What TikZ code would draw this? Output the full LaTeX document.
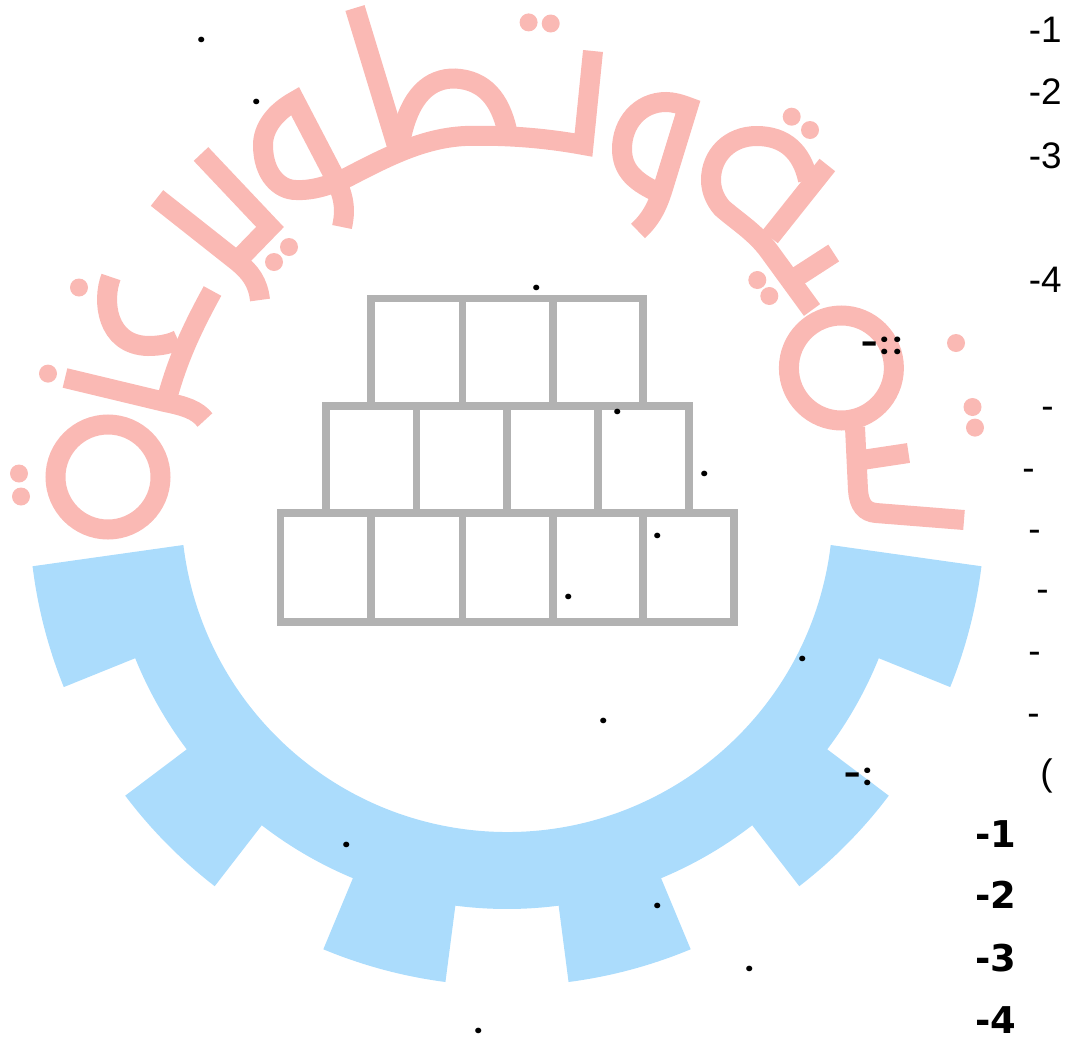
\documentclass[tikz,border=0pt]{standalone}
\usepackage{fontspec}
\setmainfont{Liberation Sans}
\newfontfamily\boldface{DejaVu Sans}
\newfontfamily\roundface{Poppins}
\usepackage{xcolor}
\usetikzlibrary{positioning}
\definecolor{gearblue}{RGB}{171, 220, 252}
\definecolor{letterpink}{RGB}{250, 185, 180}
\definecolor{brickgray}{RGB}{178, 178, 178}

\begin{document}
\begin{tikzpicture}[
    x=0.02cm, y=0.02cm,
    gearfill/.style={fill=gearblue},
    letter/.style={draw=letterpink, line width=0.4cm, line join=miter},
    ring/.style={draw=letterpink, line width=0.4cm},
    letterdot/.style={fill=letterpink},
    brick/.style={draw=brickgray, line width=0.15cm},
    numtext/.style={anchor=base east, inner sep=0pt, font=\fontsize{21}{21}\selectfont},
    boldtext/.style={anchor=base east, inner sep=0pt, font=\boldface\bfseries\fontsize{21}{21}\selectfont},
    colontext/.style={anchor=base west, inner sep=0pt, font=\roundface\bfseries\fontsize{17}{17}\selectfont},
    period/.style={anchor=base, inner sep=0pt, font=\roundface\bfseries\fontsize{17}{17}\selectfont}
]
\useasboundingbox (0,0) rectangle (1072,-1038);

% Gear
\begin{scope}[shift={(507,-508)}]
\fill[gearfill] (-323.7,-37) -- (187:478) arc[start angle=187, end angle=202, radius=478]
    -- (202:401) arc[start angle=202, end angle=217, radius=401]
    -- (217:478) arc[start angle=217, end angle=232.3, radius=478]
    -- (232.3:401) arc[start angle=232.3, end angle=247.4, radius=401]
    -- (247.4:478) arc[start angle=247.4, end angle=262.6, radius=478]
    -- (262.6:401) arc[start angle=262.6, end angle=277.4, radius=401]
    -- (277.4:478) arc[start angle=277.4, end angle=292.6, radius=478]
    -- (292.6:401) arc[start angle=292.6, end angle=307.7, radius=401]
    -- (307.7:478) arc[start angle=307.7, end angle=323, radius=478]
    -- (323:401) arc[start angle=323, end angle=338, radius=401]
    -- (338:478) arc[start angle=338, end angle=353, radius=478]
    -- (323.7,-37) arc[start angle=353.13, end angle=186.87, radius=326] -- cycle;
\end{scope}

% Bricks
\draw[brick] (371,-298.5) rectangle (462.5,-406);
\draw[brick] (462.5,-298.5) rectangle (553,-406);
\draw[brick] (553,-298.5) rectangle (643,-406);
\draw[brick] (326,-406) rectangle (416.7,-513);
\draw[brick] (416.7,-406) rectangle (507,-513);
\draw[brick] (507,-406) rectangle (598,-513);
\draw[brick] (598,-406) rectangle (689,-513);
\draw[brick] (280.6,-513) rectangle (371,-622);
\draw[brick] (371,-513) rectangle (462.5,-622);
\draw[brick] (462.5,-513) rectangle (553,-622);
\draw[brick] (553,-513) rectangle (643,-622);
\draw[brick] (643,-513) rectangle (734,-622);

% Letters left
\draw[ring] (108,-477) circle[radius=52.5];
\draw[letter] (65,-378) -- (165,-402) .. controls (185,-406) and (197,-410) .. (205,-420);
\draw[letter] (212.5,-291) .. controls (190,-332) and (178,-360) .. (168,-395);
\draw[letter] (111,-277) .. controls (102,-300) and (106,-345) .. (148,-346) .. controls (160,-346) and (170,-344) .. (178,-340);
\draw[letter] (157,-198) -- (238,-262) .. controls (250,-272) and (258,-282) .. (260,-300);
\draw[letter] (201,-154) -- (270,-227) -- (236,-262);

% Letters top
\draw[letter] (342,-227) .. controls (347,-205) and (342,-192) .. (332,-172) -- (295,-101)
    .. controls (275,-112) and (263,-128) .. (263,-145) .. controls (263,-175) and (280,-190) .. (296,-190)
    .. controls (315,-191) and (335,-183) .. (348,-177) .. controls (390,-155) and (425,-138) .. (465,-136)
    .. controls (500,-135) and (540,-137) .. (583.5,-145) -- (593,-51);
\draw[letter] (355,-8) -- (397,-146);
\draw[letter] (401,-138) .. controls (410,-95) and (430,-78) .. (455,-78.5) .. controls (485,-80) and (500,-100) .. (507,-130);

% Letters right
\draw[letter] (662,-194) .. controls (635,-183) and (622,-170) .. (622,-149) .. controls (622,-123) and (640,-102) .. (666,-102)
    .. controls (673,-102) and (680,-104) .. (688,-107) -- (664,-185) .. controls (658,-205) and (652,-218) .. (638,-231);
\draw[letter] (812,-310) -- (769,-251) .. controls (755,-232) and (738,-222) .. (722,-208) .. controls (715,-200) and (711,-190) .. (711,-180)
    .. controls (711,-155) and (730,-136) .. (756.7,-136) .. controls (785,-136) and (802,-152) .. (808,-180);
\draw[letter] (827.3,-165) -- (770,-237);
\draw[letter] (833.7,-253) -- (795,-278);
\draw[ring] (841.4,-368) circle[radius=52.5];
\draw[letter] (855,-427) -- (858,-490) .. controls (859,-505) and (865,-512) .. (876,-513) -- (964,-520);
\draw[letter] (862,-460) -- (908.5,-453);

% Letter dots
\fill[letterdot] (528.6,-22.4) circle[radius=9];
\fill[letterdot] (550.7,-23.5) circle[radius=9];
\fill[letterdot] (289,-247) circle[radius=9];
\fill[letterdot] (274,-262) circle[radius=9];
\fill[letterdot] (79,-287.5) circle[radius=9];
\fill[letterdot] (48,-373.6) circle[radius=9];
\fill[letterdot] (19,-473.5) circle[radius=9];
\fill[letterdot] (21,-496.5) circle[radius=9];
\fill[letterdot] (791.7,-116.7) circle[radius=9];
\fill[letterdot] (810,-130) circle[radius=9];
\fill[letterdot] (757.3,-280) circle[radius=9];
\fill[letterdot] (769.3,-296) circle[radius=9];
\fill[letterdot] (956,-343) circle[radius=9];
\fill[letterdot] (972.5,-407) circle[radius=9];
\fill[letterdot] (975,-427.6) circle[radius=9];

% Numbers
\node[numtext] (num1) at (1062,-42) {-1};
\node[numtext] (num2) at (1062,-104) {-2};
\node[numtext] (num3) at (1062,-168) {-3};
\node[numtext] (num4) at (1062,-292) {-4};
\node[numtext] (dash1) at (1054,-418) {-};
\node[numtext] (dash2) at (1035,-480) {-};
\node[numtext] (dash3) at (1041,-541) {-};
\node[numtext] (dash4) at (1049,-601) {-};
\node[numtext] (dash5) at (1041,-663) {-};
\node[numtext] (dash6) at (1040,-725) {-};
\node[numtext] (paren) at (1053,-785) {(};
\node[boldtext] (bold1) at (1017,-847) {-1};
\node[boldtext] (bold2) at (1017,-908) {-2};
\node[boldtext] (bold3) at (1017,-971) {-3};
\node[boldtext] (bold4) at (1017,-1033) {-4};
\node[colontext] (head1) at (861,-354) {-\kern1pt:\kern2.5pt:};
\node[colontext] (head2) at (844,-785) {-\kern1pt:};

% Periods
\node[period] (dot1) at (202,-42) {.};
\node[period] (dot2) at (257,-104) {.};
\node[period] (dot3) at (536.5,-290) {.};
\node[period] (dot4) at (617.5,-414) {.};
\node[period] (dot5) at (705,-476) {.};
\node[period] (dot6) at (658,-538) {.};
\node[period] (dot7) at (569,-599) {.};
\node[period] (dot8) at (802.4,-661) {.};
\node[period] (dot9) at (604,-723) {.};
\node[period] (dot10) at (347,-847) {.};
\node[period] (dot11) at (657.6,-908) {.};
\node[period] (dot12) at (749.5,-971) {.};
\node[period] (dot13) at (478.7,-1033) {.};

\end{tikzpicture}
\end{document}
